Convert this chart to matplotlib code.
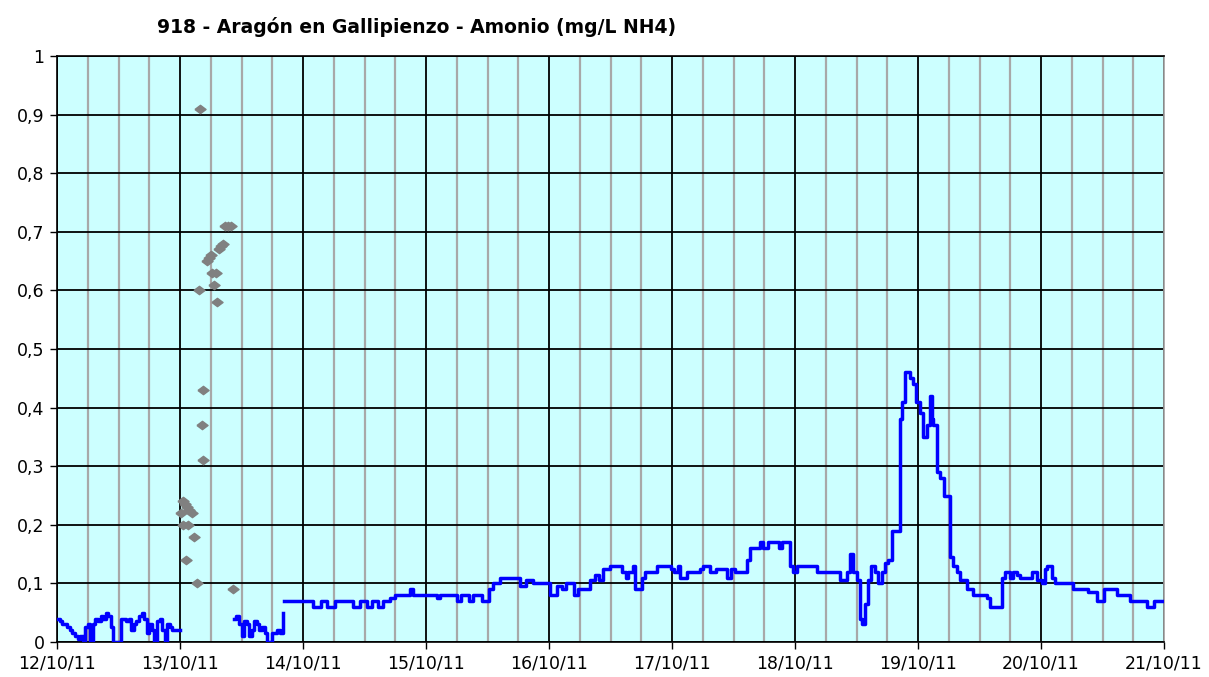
import numpy as np
import matplotlib.pyplot as plt
from matplotlib.ticker import MultipleLocator

# Amonio series, hours since 12/10/11 00:00 (step changes)
h1 = np.arange(0, 24.5, 0.5)
v1 = [0.04, 0.035, 0.03, 0.03, 0.025, 0.02, 0.015, 0.01, 0.005, 0.01, 0.0, 0.025,
      0.03, 0.0, 0.03, 0.04, 0.035, 0.045, 0.04, 0.05, 0.045, 0.025, 0.0, 0.0,
      0.0, 0.04, 0.04, 0.035, 0.04, 0.02, 0.03, 0.035, 0.045, 0.05, 0.04, 0.015,
      0.03, 0.02, 0.0, 0.035, 0.04, 0.02, 0.0, 0.03, 0.025, 0.02, 0.02, 0.02, 0.02]

h2 = [34.5, 35.0, 35.5, 36.0, 36.5, 37.0, 37.5, 38.0, 38.5, 39.0, 39.5, 40.0,
      40.5, 41.0, 41.5, 42.0, 42.5, 43.0, 43.5, 44.0]
v2 = [0.04, 0.045, 0.03, 0.01, 0.035, 0.03, 0.01, 0.02, 0.035, 0.03, 0.02, 0.025,
      0.015, 0.0, 0.0, 0.015, 0.015, 0.02, 0.015, 0.05]

h3 = [44.3, 50.0, 51.6, 52.6, 54.3, 57.8, 59.1, 60.4, 61.4, 62.7, 63.7, 65.0,
      65.9, 68.9, 69.5, 74.1, 74.7, 78.0, 78.9, 80.3, 81.2, 82.9, 84.2, 85.1,
      86.4, 90.3, 91.6, 92.9, 96.2, 97.5, 98.5, 99.4, 100.8, 101.7, 104.0, 105.0,
      105.8, 106.6, 107.9, 110.2, 111.0, 111.5, 112.3, 112.8, 114.1, 114.7, 117.0,
      119.9, 120.4, 121.2, 121.6, 122.9, 125.5, 126.1, 127.4, 128.5, 130.7, 131.6,
      132.3, 134.6, 135.2, 137.2, 137.8, 138.8, 140.8, 141.4, 143.0, 143.7, 144.3,
      148.3, 152.8, 154.1, 154.7, 155.4, 156.0, 156.7, 157.0, 157.7, 158.3, 158.9,
      159.6, 160.2, 160.9, 161.5, 162.2, 162.9, 164.5, 164.8, 165.5, 166.4, 167.1,
      167.7, 168.4, 169.0, 169.7, 170.3, 170.7, 171.0, 171.7, 172.3, 173.0, 174.2,
      174.9, 175.6, 176.2, 177.5, 178.8, 181.4, 182.1, 184.3, 185.0, 186.0, 186.5,
      187.3, 187.9, 190.2, 191.2, 192.1, 192.8, 193.1, 194.1, 194.7, 198.3, 201.2,
      202.9, 204.2, 206.8, 209.4, 212.7, 214.0, 216.0]
v3 = [0.07, 0.06, 0.07, 0.06, 0.07, 0.06, 0.07, 0.06, 0.07, 0.06, 0.07, 0.075,
      0.08, 0.09, 0.08, 0.075, 0.08, 0.07, 0.08, 0.07, 0.08, 0.07, 0.09, 0.10,
      0.11, 0.095, 0.105, 0.10, 0.08, 0.095, 0.09, 0.10, 0.08, 0.09, 0.105, 0.115,
      0.105, 0.125, 0.13, 0.12, 0.11, 0.12, 0.13, 0.09, 0.11, 0.12, 0.13,
      0.125, 0.12, 0.13, 0.11, 0.12, 0.125, 0.13, 0.12, 0.125, 0.11, 0.125,
      0.12, 0.14, 0.16, 0.17, 0.16, 0.17, 0.16, 0.17, 0.13, 0.12, 0.13,
      0.12, 0.105, 0.12, 0.15, 0.12, 0.105, 0.04, 0.03, 0.065, 0.105, 0.13,
      0.12, 0.10, 0.12, 0.135, 0.14, 0.19, 0.38, 0.41, 0.46, 0.45, 0.44,
      0.41, 0.39, 0.35, 0.37, 0.42, 0.38, 0.37, 0.29, 0.28, 0.25, 0.145,
      0.13, 0.12, 0.105, 0.09, 0.08, 0.075, 0.06, 0.11, 0.12, 0.11, 0.12,
      0.115, 0.11, 0.12, 0.105, 0.10, 0.125, 0.13, 0.11, 0.10, 0.09, 0.085,
      0.07, 0.09, 0.08, 0.07, 0.06, 0.07, 0.07]

# gray diamonds (second series)
hp = [24.2, 24.6, 25.0, 25.4, 25.8, 26.3, 24.6, 25.6, 26.7, 25.2, 27.3, 27.9,
      27.7, 28.5, 28.3, 28.5, 29.3, 29.7, 30.0, 30.2, 31.0, 30.6, 31.2, 31.6,
      32.0, 32.4, 32.8, 33.4, 33.9, 34.3]
vp = [0.22, 0.24, 0.235, 0.23, 0.225, 0.22, 0.20, 0.20, 0.18, 0.14, 0.10, 0.91,
      0.60, 0.43, 0.37, 0.31, 0.65, 0.655, 0.66, 0.63, 0.63, 0.61, 0.58, 0.67,
      0.675, 0.68, 0.71, 0.71, 0.71, 0.09]

day_labels = ['12/10/11', '13/10/11', '14/10/11', '15/10/11', '16/10/11',
              '17/10/11', '18/10/11', '19/10/11', '20/10/11', '21/10/11']
y_labels = ['0', '0,1', '0,2', '0,3', '0,4', '0,5', '0,6', '0,7', '0,8', '0,9', '1']

fig = plt.figure(figsize=(12.09, 6.77), dpi=100)
ax = fig.add_axes([57/1209, 1-642/677, (1164-57)/1209, (642-56)/677])
ax.set_facecolor('#CCFFFF')

for hh, vv in [(h1, v1), (h2, v2), (h3, v3)]:
    ax.plot(np.array(hh)/24, vv, color='#0000FF', lw=2.5, drawstyle='steps-post', zorder=3)

diamond = [(-1, 0), (0, 0.75), (1, 0), (0, -0.75), (-1, 0)]
ax.plot(np.array(hp)/24, vp, ls='none', marker=diamond, ms=8, color='#808080', mec='#808080', zorder=4)

ax.set_xlim(0, 9)
ax.set_ylim(0, 1)
ax.set_xticks(range(10))
ax.set_xticklabels(day_labels)
ax.xaxis.set_minor_locator(MultipleLocator(0.25))
ax.set_yticks(np.arange(11)/10)
ax.set_yticklabels(y_labels)
ax.set_axisbelow(True)
ax.grid(which='minor', axis='x', color='#A8A8A8', lw=1.6)
ax.grid(which='major', axis='x', color='black', lw=1.3)
ax.grid(which='major', axis='y', color='black', lw=1.3)
ax.tick_params(which='minor', length=0)
ax.tick_params(which='major', length=5, width=1, labelsize=12.5, pad=4)
ax.spines['right'].set_color('#A0A0A0')
ax.spines['top'].set_color('black')
for s in ax.spines.values():
    s.set_linewidth(1.2)

fig.text(417/1209, 1-27/677, '918 - Aragón en Gallipienzo - Amonio (mg/L NH4)',
         ha='center', va='center', fontsize=13.5, fontweight='bold')

fig.savefig('out.png', dpi=100)
